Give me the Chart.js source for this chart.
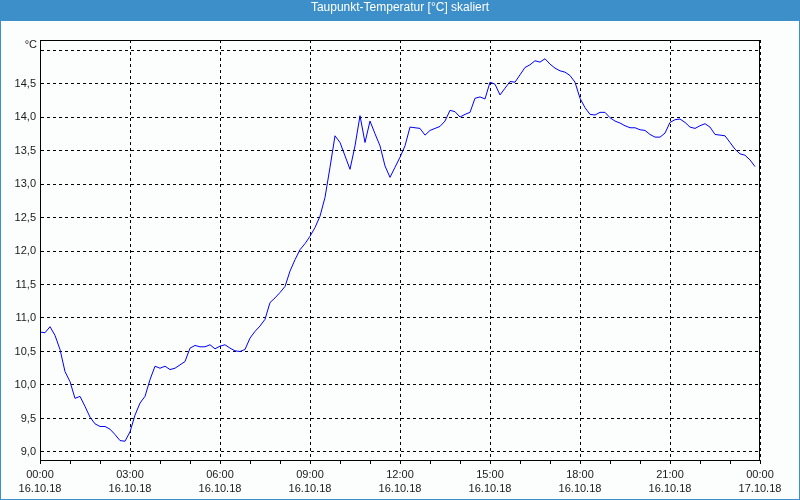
<!DOCTYPE html>
<html>
<head>
<meta charset="utf-8">
<script src="https://cdn.jsdelivr.net/npm/chart.js@4"></script>
<style>
body { margin: 0; background: #fff; }
#box { position: relative; width: 800px; height: 500px; }
#box canvas { position: absolute; left: 0; top: 0; }
#title {
    position: absolute; left: 0; top: 0; width: 800px; height: 21px; line-height: 21px;
    text-align: center; color: #fff;
    font: 12px 'Liberation Sans', sans-serif;
}
</style>
</head>
<body>
<div id="box">
    <canvas id="myChart" width="800" height="500"></canvas>
    <div id="title">Taupunkt-Temperatur [°C] skaliert</div>
</div>
<script>
// Taupunkt in °C, ein Wert alle 10 Minuten ab 16.10.18 00:00
var stepMinutes = 10;
var dewPoint = [
    10.79, 10.78, 10.87, 10.74, 10.53, 10.20, 10.05, 9.80, 9.83, 9.68, 9.52, 9.42,
    9.38, 9.38, 9.34, 9.26, 9.17, 9.16, 9.30, 9.55, 9.73, 9.83, 10.08, 10.28,
    10.25, 10.28, 10.23, 10.25, 10.30, 10.35, 10.55, 10.59, 10.57, 10.57, 10.60, 10.54,
    10.58, 10.60, 10.55, 10.51, 10.50, 10.53, 10.70, 10.80, 10.88, 10.98, 11.23, 11.30,
    11.38, 11.47, 11.70, 11.87, 12.02, 12.11, 12.22, 12.35, 12.52, 12.80, 13.25, 13.72,
    13.62, 13.42, 13.22, 13.57, 14.02, 13.62, 13.94, 13.75, 13.57, 13.27, 13.10, 13.25,
    13.40, 13.57, 13.85, 13.84, 13.83, 13.73, 13.80, 13.83, 13.86, 13.94, 14.10, 14.08,
    14.00, 14.04, 14.07, 14.28, 14.30, 14.27, 14.52, 14.49, 14.33, 14.43, 14.53, 14.52,
    14.63, 14.74, 14.78, 14.84, 14.82, 14.87, 14.79, 14.73, 14.69, 14.67, 14.62, 14.52,
    14.28, 14.14, 14.04, 14.03, 14.07, 14.07, 13.99, 13.94, 13.91, 13.87, 13.84, 13.84,
    13.81, 13.80, 13.74, 13.70, 13.70, 13.76, 13.92, 13.96, 13.97, 13.92, 13.85, 13.83,
    13.87, 13.90, 13.85, 13.74, 13.73, 13.72, 13.62, 13.52, 13.45, 13.43, 13.36, 13.26
];
var yTicks = [9.0, 9.5, 10.0, 10.5, 11.0, 11.5, 12.0, 12.5, 13.0, 13.5, 14.0, 14.5, 15.0];
var hourTicks = [0, 1, 2, 3, 4, 5, 6, 7, 8, 9, 10, 11, 12, 13, 14, 15, 16, 17, 18, 19, 20, 21, 22, 23, 24];
var timeLabels = ['00:00', '03:00', '06:00', '09:00', '12:00', '15:00', '18:00', '21:00', '00:00'];
var dateLabels = ['16.10.18', '16.10.18', '16.10.18', '16.10.18', '16.10.18', '16.10.18', '16.10.18', '16.10.18', '17.10.18'];

var frameBlue = '#3c8fc8';
var labelFont = { family: "'Liberation Sans Narrow', 'Liberation Sans', sans-serif", size: 11 };

var points = dewPoint.map(function (v, i) {
    return { x: i * stepMinutes / 60, y: v };
});

var frame = {
    id: 'frame',
    beforeDraw: function (chart) {
        var c = chart.ctx;
        c.save();
        c.fillStyle = frameBlue;
        c.fillRect(0, 0, chart.width, chart.height);
        c.fillStyle = '#fcfdfd';
        c.fillRect(1, 21, chart.width - 2, chart.height - 22);
        c.restore();
    },
    afterDraw: function (chart) {
        var c = chart.ctx, a = chart.chartArea, ys = chart.scales.y;
        c.save();
        c.strokeStyle = '#000';
        c.lineWidth = 1;
        c.strokeRect(Math.round(a.left) + 0.5, Math.round(a.top) + 0.5,
            Math.round(a.right - a.left) - 1, Math.round(a.bottom - a.top));
        c.fillStyle = '#1a1a1a';
        c.font = "11px 'Liberation Sans Narrow', 'Liberation Sans', sans-serif";
        c.textAlign = 'right';
        c.textBaseline = 'middle';
        c.fillText('°C', ys.right - 3, ys.getPixelForValue(15) - 5);
        c.restore();
    }
};

var ctx = document.getElementById("myChart");
var myChart = new Chart(ctx, {
    type: 'line',
    data: {
        datasets: [{
            label: 'Taupunkt',
            data: points,
            borderColor: '#0000ff',
            borderWidth: 1,
            pointRadius: 0,
            tension: 0,
            fill: false
        }]
    },
    plugins: [frame],
    options: {
        responsive: false,
        animation: false,
        devicePixelRatio: 1,
        layout: { padding: { top: 40, right: 40, left: 0, bottom: 0 } },
        plugins: {
            legend: { display: false },
            tooltip: { enabled: false },
            title: { display: false }
        },
        scales: {
            x: {
                type: 'linear',
                min: 0,
                max: 24,
                afterBuildTicks: function (scale) {
                    scale.ticks = hourTicks.map(function (h) { return { value: h }; });
                },
                afterFit: function (scale) { scale.height = 40; },
                grid: {
                    color: function (c) {
                        return c.tick && c.tick.value % 3 === 0 ? '#000' : 'rgba(0,0,0,0)';
                    },
                    tickColor: '#000',
                    tickLength: 4,
                    tickBorderDash: []
                },
                border: { color: '#000', dash: [3, 3] },
                ticks: {
                    autoSkip: false,
                    maxRotation: 0,
                    padding: 3,
                    color: '#1a1a1a',
                    font: { family: labelFont.family, size: 11, lineHeight: 1.36 },
                    callback: function (value) {
                        if (value % 3 !== 0) return '';
                        return [timeLabels[value / 3], dateLabels[value / 3]];
                    }
                }
            },
            y: {
                min: 8.88,
                max: 15.15,
                afterBuildTicks: function (scale) {
                    scale.ticks = yTicks.map(function (v) { return { value: v }; });
                },
                afterFit: function (scale) { scale.width = 40; },
                grid: { color: '#000', drawTicks: false },
                border: { color: '#000', dash: [3, 3] },
                ticks: {
                    padding: 4,
                    color: '#1a1a1a',
                    font: labelFont,
                    callback: function (value) {
                        if (value === 15) return '';
                        return value.toFixed(1).replace('.', ',');
                    }
                }
            }
        }
    }
});
</script>
</body>
</html>
